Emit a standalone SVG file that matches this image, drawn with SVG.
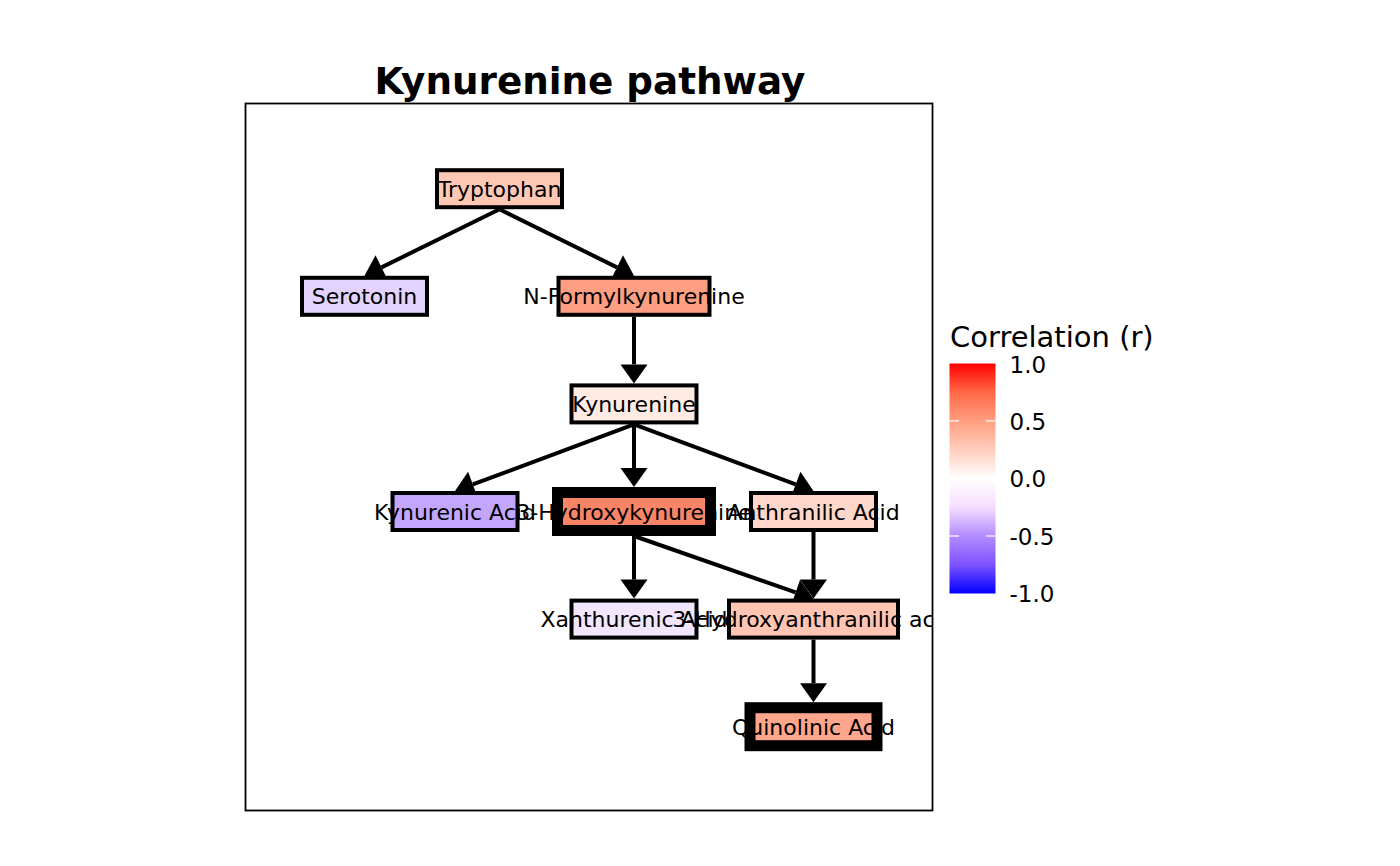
<svg xmlns="http://www.w3.org/2000/svg" width="1400" height="866" viewBox="0 0 1400 866">
<style>
text{font-family:"DejaVu Sans","Liberation Sans",sans-serif;fill:#000}
.lbl{font-size:22px;text-anchor:middle}
.fillr{stroke:none}
.bd{fill:none;stroke:#000;stroke-width:4}
.bd.thick{stroke-width:11}
.edge{stroke:#000;stroke-width:4;fill:none;marker-end:url(#ah)}
.leg{font-size:23px}
.tick{stroke:#fff;stroke-width:1.2}
</style>
<defs>
<marker id="ah" markerUnits="userSpaceOnUse" orient="auto" refX="0" refY="0" markerWidth="20" markerHeight="28" overflow="visible">
<path d="M0,-13.5 L19,0 L0,13.5 Z" fill="#000"/>
</marker>
<linearGradient id="grad" x1="0" y1="0" x2="0" y2="1">
<stop offset="0" stop-color="#FF0000"/>
<stop offset="0.125" stop-color="#FF6846"/>
<stop offset="0.25" stop-color="#FF9E81"/>
<stop offset="0.375" stop-color="#FFCDBC"/>
<stop offset="0.5" stop-color="#FFFFFF"/>
<stop offset="0.625" stop-color="#F6DDFF"/>
<stop offset="0.75" stop-color="#B38BFF"/>
<stop offset="0.875" stop-color="#7E52FF"/>
<stop offset="1" stop-color="#0000FF"/>
</linearGradient>
<clipPath id="panel"><rect x="245" y="103" width="688" height="708"/></clipPath>
</defs>
<rect width="1400" height="866" fill="#fff"/>
<text x="590" y="94" font-size="37.3" font-weight="bold" text-anchor="middle">Kynurenine pathway</text>
<g id="connectors">
<line class="edge" x1="499.5" y1="209.2" x2="381.5" y2="267.4"/>
<line class="edge" x1="499.5" y1="209.2" x2="617" y2="267.4"/>
<line class="edge" x1="634" y1="316.8" x2="634" y2="364.4"/>
<line class="edge" x1="634" y1="424.4" x2="472.8" y2="484.4"/>
<line class="edge" x1="634" y1="424.4" x2="634" y2="468"/>
<line class="edge" x1="634" y1="424.4" x2="795.7" y2="484.4"/>
<line class="edge" x1="634" y1="536" x2="634" y2="579.6"/>
<line class="edge" x1="634" y1="536" x2="795.6" y2="592.4"/>
<line class="edge" x1="813.5" y1="532" x2="813.5" y2="579.6"/>
<line class="edge" x1="813.5" y1="639.6" x2="813.5" y2="683.2"/>
</g>
<g id="nodes" clip-path="url(#panel)">
<g id="node-tryptophan">
<rect class="fillr" x="437" y="170.2" width="125" height="37" fill="#FEC8B4"/>
<text class="lbl" x="499.5" y="196.7">Tryptophan</text>
<rect class="bd" x="437" y="170.2" width="125" height="37"/>
</g>
<g id="node-serotonin">
<rect class="fillr" x="302" y="277.8" width="125" height="37" fill="#E1D3FD"/>
<text class="lbl" x="364.5" y="304.3">Serotonin</text>
<rect class="bd" x="302" y="277.8" width="125" height="37"/>
</g>
<g id="node-n-formylkynurenine">
<rect class="fillr" x="558.5" y="277.8" width="151" height="37" fill="#FF9E82"/>
<text class="lbl" x="634" y="304.3">N-Formylkynurenine</text>
<rect class="bd" x="558.5" y="277.8" width="151" height="37"/>
</g>
<g id="node-kynurenine">
<rect class="fillr" x="571.5" y="385.4" width="125" height="37" fill="#FFEBE4"/>
<text class="lbl" x="634" y="411.9">Kynurenine</text>
<rect class="bd" x="571.5" y="385.4" width="125" height="37"/>
</g>
<g id="node-kynurenic-acid">
<rect class="fillr" x="392.5" y="493" width="125" height="37" fill="#C3A6FE"/>
<text class="lbl" x="455" y="519.5">Kynurenic Acid</text>
<rect class="bd" x="392.5" y="493" width="125" height="37"/>
</g>
<g id="node-3-hydroxykynurenine">
<rect class="fillr" x="557.5" y="492.5" width="153" height="38" fill="#FA8466"/>
<text class="lbl" x="634" y="519.5">3-Hydroxykynurenine</text>
<rect class="bd thick" x="557.5" y="492.5" width="153" height="38"/>
</g>
<g id="node-anthranilic-acid">
<rect class="fillr" x="751" y="493" width="125" height="37" fill="#FFD6CA"/>
<text class="lbl" x="813.5" y="519.5">Anthranilic Acid</text>
<rect class="bd" x="751" y="493" width="125" height="37"/>
</g>
<g id="node-xanthurenic-acid">
<rect class="fillr" x="571.5" y="600.6" width="125" height="37" fill="#F1E6FE"/>
<text class="lbl" x="634" y="627.1">Xanthurenic Acid</text>
<rect class="bd" x="571.5" y="600.6" width="125" height="37"/>
</g>
<g id="node-3-hydroxyanthranilic-acid">
<rect class="fillr" x="729" y="600.6" width="169" height="37" fill="#FFC5B2"/>
<text class="lbl" x="813.5" y="627.1">3-Hydroxyanthranilic acid</text>
<rect class="bd" x="729" y="600.6" width="169" height="37"/>
</g>
<g id="node-quinolinic-acid">
<rect class="fillr" x="750" y="707.7" width="127" height="38" fill="#FFA68C"/>
<text class="lbl" x="813.5" y="734.7">Quinolinic Acid</text>
<rect class="bd thick" x="750" y="707.7" width="127" height="38"/>
</g>
</g>
<rect x="245.5" y="103.5" width="687" height="707" fill="none" stroke="#000" stroke-width="1.8"/>
<g id="legend">
<text x="950" y="346.5" font-size="29">Correlation (r)</text>
<rect x="949.5" y="363.5" width="46" height="230" fill="url(#grad)"/>
<g class="tick">
<line x1="949.5" y1="420.9" x2="959" y2="420.9"/><line x1="986" y1="420.9" x2="995.5" y2="420.9"/>
<line x1="949.5" y1="536" x2="959" y2="536"/><line x1="986" y1="536" x2="995.5" y2="536"/>
</g>
<text class="leg" x="1009.5" y="372.5">1.0</text>
<text class="leg" x="1009.5" y="429.5">0.5</text>
<text class="leg" x="1009.5" y="487">0.0</text>
<text class="leg" x="1009.5" y="544.5">-0.5</text>
<text class="leg" x="1009.5" y="602">-1.0</text>
</g>
</svg>
